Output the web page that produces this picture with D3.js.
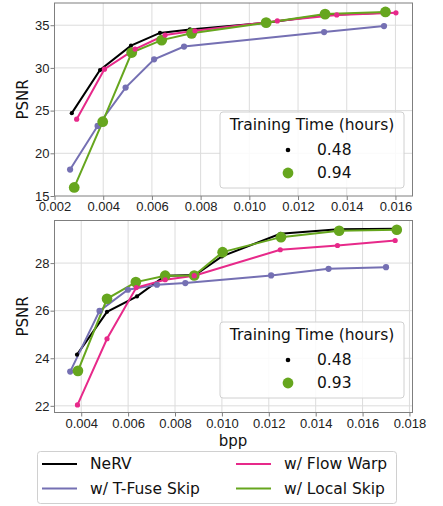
<!DOCTYPE html>
<html>
<head>
<script src="https://d3js.org/d3.v7.min.js"></script>
<style>
  body { margin: 0; background: #fff; }
  svg { font-family: "DejaVu Sans", sans-serif; }
  .grid line { stroke: #dcdcdc; stroke-width: 1; }
  .axis path, .axis line { stroke: #7f7f7f; }
  .axis text { font-size: 13px; fill: #222; }
</style>
</head>
<body>
<div id="chart"></div>
<script>
// method names / colours (hue order)
var methods = ["NeRV", "w/ T-Fuse Skip", "w/ Flow Warp", "w/ Local Skip"];
var colors = ["#000000", "#7570b3", "#e7298a", "#66a61e"];

// training time per method, used for marker size
var timeTop = [0.48, 0.62, 0.55, 0.94];
var timeBot = [0.48, 0.62, 0.55, 0.93];
var legendTimesTop = [0.48, 0.94];
var legendTimesBot = [0.48, 0.93];

// top panel
var nervTopX = [0.00271, 0.00387, 0.00514, 0.00633, 0.00756, 0.0107, 0.0131, 0.0155];
var nervTopY = [24.7, 29.75, 32.6, 34.1, 34.5, 35.3, 36.2, 36.45];
var tfuseTopX = [0.00264, 0.00377, 0.00492, 0.00609, 0.00732, 0.01307, 0.01553];
var tfuseTopY = [18.1, 23.2, 27.7, 31.0, 32.5, 34.2, 34.9];
var flowTopX = [0.00291, 0.00405, 0.00531, 0.00654, 0.00777, 0.01115, 0.01359, 0.01602];
var flowTopY = [24.0, 29.85, 32.2, 33.85, 34.35, 35.5, 36.2, 36.45];
var localTopX = [0.00281, 0.00398, 0.00517, 0.0064, 0.00763, 0.01069, 0.01311, 0.01559];
var localTopY = [16.0, 23.7, 31.8, 33.25, 34.05, 35.3, 36.3, 36.55];

// bottom panel
var nervBotX = [0.00382, 0.0051, 0.00638, 0.00758, 0.00886, 0.0100, 0.01249, 0.01497, 0.01743];
var nervBotY = [24.15, 25.95, 26.6, 27.47, 27.5, 28.28, 29.23, 29.42, 29.44];
var tfuseBotX = [0.00353, 0.00478, 0.00599, 0.00723, 0.00844, 0.0121, 0.01455, 0.017];
var tfuseBotY = [23.44, 25.99, 26.88, 27.09, 27.16, 27.48, 27.76, 27.83];
var flowBotX = [0.00384, 0.0051, 0.00635, 0.00758, 0.00882, 0.01249, 0.01493, 0.01739];
var flowBotY = [22.04, 24.82, 26.97, 27.3, 27.47, 28.56, 28.74, 28.95];
var localBotX = [0.00386, 0.0051, 0.00633, 0.00758, 0.00882, 0.01003, 0.01252, 0.015, 0.01746];
var localBotY = [23.47, 26.5, 27.2, 27.47, 27.48, 28.46, 29.09, 29.36, 29.4];

var xTicksTop = [0.002, 0.004, 0.006, 0.008, 0.010, 0.012, 0.014, 0.016];
var yTicksTop = [15, 20, 25, 30, 35];
var xTicksBot = [0.004, 0.006, 0.008, 0.010, 0.012, 0.014, 0.016, 0.018];
var yTicksBot = [22, 24, 26, 28];

function zip(xs, ys) { return xs.map(function(x, i) { return [x, ys[i]]; }); }

var svg = d3.select("#chart").append("svg")
  .attr("width", 443).attr("height", 506);

var rScale = d3.scaleLinear().domain([0.48, 0.94]).range([2.1, 5.4]);

function panel(opt) {
  var x = d3.scaleLinear().domain(opt.xDom).range([opt.left, opt.right]);
  var y = d3.scaleLinear().domain(opt.yDom).range([opt.bottom, opt.top]);

  var g = svg.append("g");
  // grid
  var grid = g.append("g").attr("class", "grid");
  grid.selectAll("line.v").data(opt.xTicks.filter(function(t) { return x(t) > opt.left + 1 && x(t) < opt.right - 1; }))
    .enter().append("line")
    .attr("x1", function(d) { return x(d); }).attr("x2", function(d) { return x(d); })
    .attr("y1", opt.top).attr("y2", opt.bottom);
  grid.selectAll("line.h").data(opt.yTicks.filter(function(t) { return y(t) < opt.bottom - 1; }))
    .enter().append("line")
    .attr("y1", function(d) { return y(d); }).attr("y2", function(d) { return y(d); })
    .attr("x1", opt.left).attr("x2", opt.right);

  // lines
  var line = d3.line().x(function(d) { return x(d[0]); }).y(function(d) { return y(d[1]); });
  opt.series.forEach(function(s, i) {
    g.append("path").datum(s)
      .attr("d", line)
      .attr("fill", "none")
      .attr("stroke", colors[i])
      .attr("stroke-width", 2);
  });
  // markers
  [0, 1, 3, 2].forEach(function(i) {
    g.selectAll(null).data(opt.series[i]).enter().append("circle")
      .attr("cx", function(d) { return x(d[0]); })
      .attr("cy", function(d) { return y(d[1]); })
      .attr("r", rScale(opt.times[i]))
      .attr("fill", colors[i]);
  });

  // frame
  g.append("rect")
    .attr("x", opt.left).attr("y", opt.top)
    .attr("width", opt.right - opt.left).attr("height", opt.bottom - opt.top)
    .attr("fill", "none").attr("stroke", "#7f7f7f").attr("stroke-width", 1);

  // axes
  g.append("g").attr("class", "axis")
    .attr("transform", "translate(0," + opt.bottom + ")")
    .call(d3.axisBottom(x).tickValues(opt.xTicks).tickFormat(d3.format(".3f")).tickSize(4).tickPadding(2))
    .call(function(a) { a.select(".domain").remove(); });
  g.append("g").attr("class", "axis")
    .attr("transform", "translate(" + opt.left + ",0)")
    .call(d3.axisLeft(y).tickValues(opt.yTicks).tickFormat(d3.format("d")).tickSize(4).tickPadding(1))
    .call(function(a) { a.select(".domain").remove(); });

  // y label
  svg.append("text")
    .attr("transform", "translate(23," + ((opt.top + opt.bottom) / 2) + ") rotate(-90)")
    .attr("text-anchor", "middle").attr("dominant-baseline", "middle")
    .attr("font-size", 15).attr("fill", "#111")
    .text("PSNR");

  // size legend
  var lg = svg.append("g");
  lg.append("rect")
    .attr("x", 220).attr("y", opt.legTop).attr("width", 184).attr("height", 76)
    .attr("rx", 3).attr("fill", "#fff").attr("fill-opacity", 0.85)
    .attr("stroke", "#d0d0d0");
  lg.append("text")
    .attr("x", 312).attr("y", opt.legTop + 13).attr("text-anchor", "middle")
    .attr("dominant-baseline", "central").attr("font-size", 15.5).attr("fill", "#111")
    .text("Training Time (hours)");
  opt.legTimes.forEach(function(t, i) {
    var cy = opt.legTop + 38 + i * 23;
    lg.append("circle").attr("cx", 288).attr("cy", cy)
      .attr("r", i === 0 ? 2.3 : 5.4)
      .attr("fill", i === 0 ? colors[0] : colors[3]);
    lg.append("text").attr("x", 317).attr("y", cy)
      .attr("dominant-baseline", "central").attr("font-size", 15.5).attr("fill", "#111")
      .text(t.toFixed(2));
  });
}

panel({
  left: 54.5, right: 412.5, top: 3, bottom: 196,
  xDom: [0.002, 0.0167], yDom: [15, 37.6],
  xTicks: xTicksTop, yTicks: yTicksTop,
  series: [zip(nervTopX, nervTopY), zip(tfuseTopX, tfuseTopY), zip(flowTopX, flowTopY), zip(localTopX, localTopY)],
  times: timeTop, legTimes: legendTimesTop, legTop: 112
});

panel({
  left: 54.5, right: 412.5, top: 220.5, bottom: 412.5,
  xDom: [0.00286, 0.01813], yDom: [21.72, 29.79],
  xTicks: xTicksBot, yTicks: yTicksBot,
  series: [zip(nervBotX, nervBotY), zip(tfuseBotX, tfuseBotY), zip(flowBotX, flowBotY), zip(localBotX, localBotY)],
  times: timeBot, legTimes: legendTimesBot, legTop: 322
});

// x label
svg.append("text")
  .attr("x", 233).attr("y", 441).attr("text-anchor", "middle")
  .attr("dominant-baseline", "central").attr("font-size", 15).attr("fill", "#111")
  .text("bpp");

// method legend
var leg = svg.append("g");
leg.append("rect")
  .attr("x", 37.5).attr("y", 451.5).attr("width", 359).attr("height", 52)
  .attr("rx", 3).attr("fill", "#fff").attr("stroke", "#d0d0d0");
methods.forEach(function(m, i) {
  var col = Math.floor(i / 2), row = i % 2;
  var lx = col === 0 ? 42 : 236;
  var cy = 464 + row * 24.5;
  leg.append("line")
    .attr("x1", lx).attr("x2", lx + 35).attr("y1", cy).attr("y2", cy)
    .attr("stroke", colors[i]).attr("stroke-width", 2);
  leg.append("text")
    .attr("x", lx + 48).attr("y", cy)
    .attr("dominant-baseline", "central").attr("font-size", 15.5).attr("fill", "#111")
    .text(m);
});
</script>
</body>
</html>
